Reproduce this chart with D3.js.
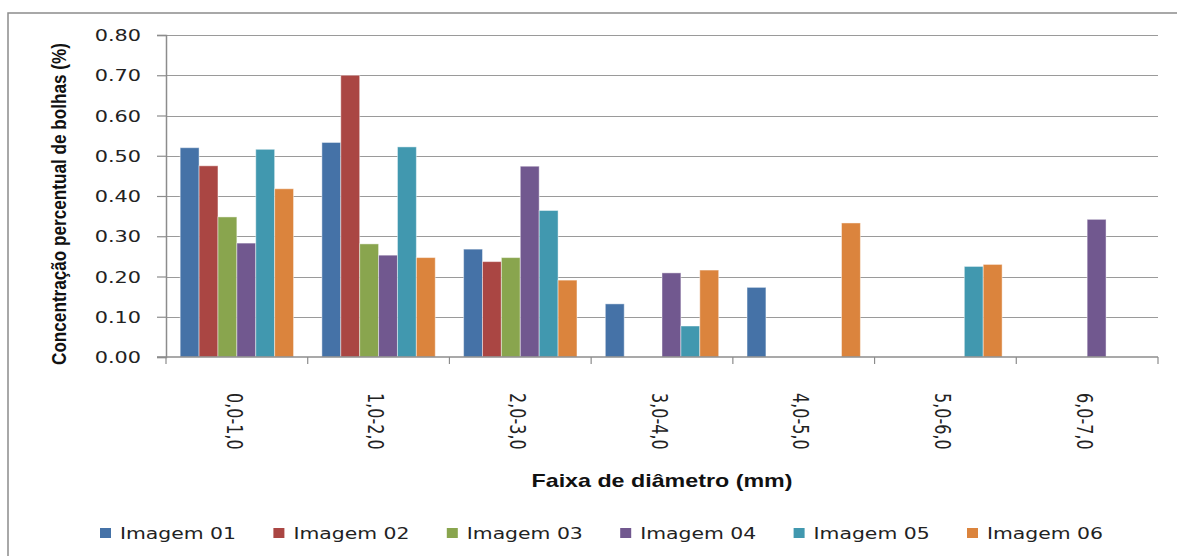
<!DOCTYPE html>
<html>
<head>
<meta charset="utf-8">
<script src="https://cdn.jsdelivr.net/npm/d3@7"></script>
<style>
  body { margin: 0; background: #fff; }
  svg { display: block; }
</style>
</head>
<body>
<script>
// data
const categories = ["0,0-1,0", "1,0-2,0", "2,0-3,0", "3,0-4,0", "4,0-5,0", "5,0-6,0", "6,0-7,0"];
const seriesNames = ["Imagem 01", "Imagem 02", "Imagem 03", "Imagem 04", "Imagem 05", "Imagem 06"];
const imagem01 = [0.520, 0.533, 0.268, 0.132, 0.173, 0, 0];
const imagem02 = [0.475, 0.700, 0.237, 0, 0, 0, 0];
const imagem03 = [0.348, 0.281, 0.247, 0, 0, 0, 0];
const imagem04 = [0.283, 0.253, 0.474, 0.209, 0, 0, 0.342];
const imagem05 = [0.516, 0.522, 0.364, 0.077, 0, 0.225, 0];
const imagem06 = [0.418, 0.247, 0.191, 0.216, 0.333, 0.230, 0];
const yTicks = [0, 0.1, 0.2, 0.3, 0.4, 0.5, 0.6, 0.7, 0.8];
const colors = ["#4572A7", "#AA4643", "#89A54E", "#71588F", "#4198AF", "#DB843D"];

const allSeries = [imagem01, imagem02, imagem03, imagem04, imagem05, imagem06];

const width = 1177, height = 556;
const stretch = 1.3; // the picture's text is wide
const plot = {left: 166, right: 1158, top: 35, bottom: 357};
const numFont = "'DejaVu Sans', Verdana, sans-serif";
const titleFont = "'Liberation Sans Narrow', 'Arial Narrow', sans-serif";

const svg = d3.select("body").append("svg")
  .attr("width", width)
  .attr("height", height);

// outer frame, runs off the right and bottom edges
svg.append("rect")
  .attr("x", 8).attr("y", 13)
  .attr("width", 1190).attr("height", 570)
  .attr("fill", "#fff")
  .attr("stroke", "#8c8c8c")
  .attr("stroke-width", 1.5);

const x0 = d3.scaleBand().domain(categories).range([plot.left, plot.right]);
const x1 = d3.scaleBand().domain(seriesNames).range([0, x0.bandwidth()]).paddingOuter(0.75);
const y = d3.scaleLinear().domain([0, 0.8]).range([plot.bottom, plot.top]);

// gridlines
svg.append("g").selectAll("line")
  .data(yTicks.filter(d => d > 0))
  .join("line")
  .attr("x1", plot.left).attr("x2", plot.right)
  .attr("y1", d => Math.round(y(d)) + 0.5).attr("y2", d => Math.round(y(d)) + 0.5)
  .attr("stroke", "#9a9a9a")
  .attr("stroke-width", 1.2);

// bars
const groups = svg.append("g").selectAll("g")
  .data(categories)
  .join("g")
  .attr("transform", c => `translate(${x0(c)},0)`);

groups.selectAll("rect")
  .data((c, ci) => seriesNames.map((s, si) => ({s, si, v: allSeries[si][ci]})).filter(d => d.v > 0))
  .join("rect")
  .attr("x", d => x1(d.s))
  .attr("width", x1.bandwidth())
  .attr("y", d => y(d.v))
  .attr("height", d => y(0) - y(d.v))
  .attr("fill", d => colors[d.si])
  .attr("stroke", "#ffffff")
  .attr("stroke-opacity", 0.45)
  .attr("stroke-width", 1);

// y axis
const yAxis = d3.axisLeft(y).tickValues(yTicks).tickSize(9).tickFormat(d3.format(".2f"));
const gy = svg.append("g").attr("transform", `translate(${plot.left},0)`).call(yAxis);
gy.select(".domain").attr("stroke", "#8c8c8c").attr("stroke-width", 1.5);
gy.selectAll(".tick line").attr("stroke", "#8c8c8c").attr("stroke-width", 1.2);
gy.selectAll(".tick text")
  .attr("x", 0).attr("dy", null)
  .attr("font-family", numFont).attr("font-size", 16).attr("fill", "#222")
  .attr("text-anchor", "end")
  .attr("dominant-baseline", "central")
  .attr("transform", `translate(-25,0) scale(${stretch},1)`);

// x axis: ticks at category boundaries
const xAxis = d3.axisBottom(x0).tickSize(0).tickFormat("");
const gx = svg.append("g").attr("transform", `translate(0,${plot.bottom})`).call(xAxis);
gx.select(".domain").attr("stroke", "#8c8c8c").attr("stroke-width", 1.5).attr("d", `M${plot.left - 9},0H${plot.right}`);
gx.selectAll(".tick").remove();
gx.selectAll("line.bound")
  .data(categories.map(c => x0(c)).concat([plot.right]))
  .join("line")
  .attr("class", "bound")
  .attr("x1", d => d).attr("x2", d => d)
  .attr("y1", 0).attr("y2", 7)
  .attr("stroke", "#8c8c8c").attr("stroke-width", 1.2);

// category labels, turned to read downwards
svg.append("g").selectAll("text")
  .data(categories)
  .join("text")
  .attr("transform", c => `translate(${x0(c) + x0.bandwidth() / 2 - 3},393) scale(${stretch},1) rotate(90)`)
  .attr("font-family", numFont).attr("font-size", 16).attr("fill", "#222")
  .attr("dominant-baseline", "central")
  .text(c => c);

// axis titles
svg.append("text")
  .attr("transform", `translate(662,487)`)
  .attr("text-anchor", "middle")
  .attr("font-family", titleFont).attr("font-weight", "bold").attr("font-size", 19).attr("fill", "#111")
  .attr("textLength", 261).attr("lengthAdjust", "spacingAndGlyphs")
  .text("Faixa de diâmetro (mm)");

svg.append("text")
  .attr("transform", `translate(66,204) scale(1.15,1) rotate(-90)`)
  .attr("text-anchor", "middle")
  .attr("font-family", titleFont).attr("font-weight", "bold").attr("font-size", 17).attr("fill", "#111")
  .attr("textLength", 322).attr("lengthAdjust", "spacingAndGlyphs")
  .text("Concentração percentual de bolhas (%)");

// legend
const legend = svg.append("g").selectAll("g")
  .data(seriesNames)
  .join("g")
  .attr("transform", (d, i) => `translate(${100 + i * 173.4},528)`);
legend.append("rect")
  .attr("width", 11).attr("height", 10)
  .attr("fill", (d, i) => colors[i]);
legend.append("text")
  .attr("x", 20).attr("y", 11)
  .attr("font-family", numFont).attr("font-size", 16).attr("fill", "#222")
  .attr("textLength", 116).attr("lengthAdjust", "spacingAndGlyphs")
  .text(d => d);
</script>
</body>
</html>
